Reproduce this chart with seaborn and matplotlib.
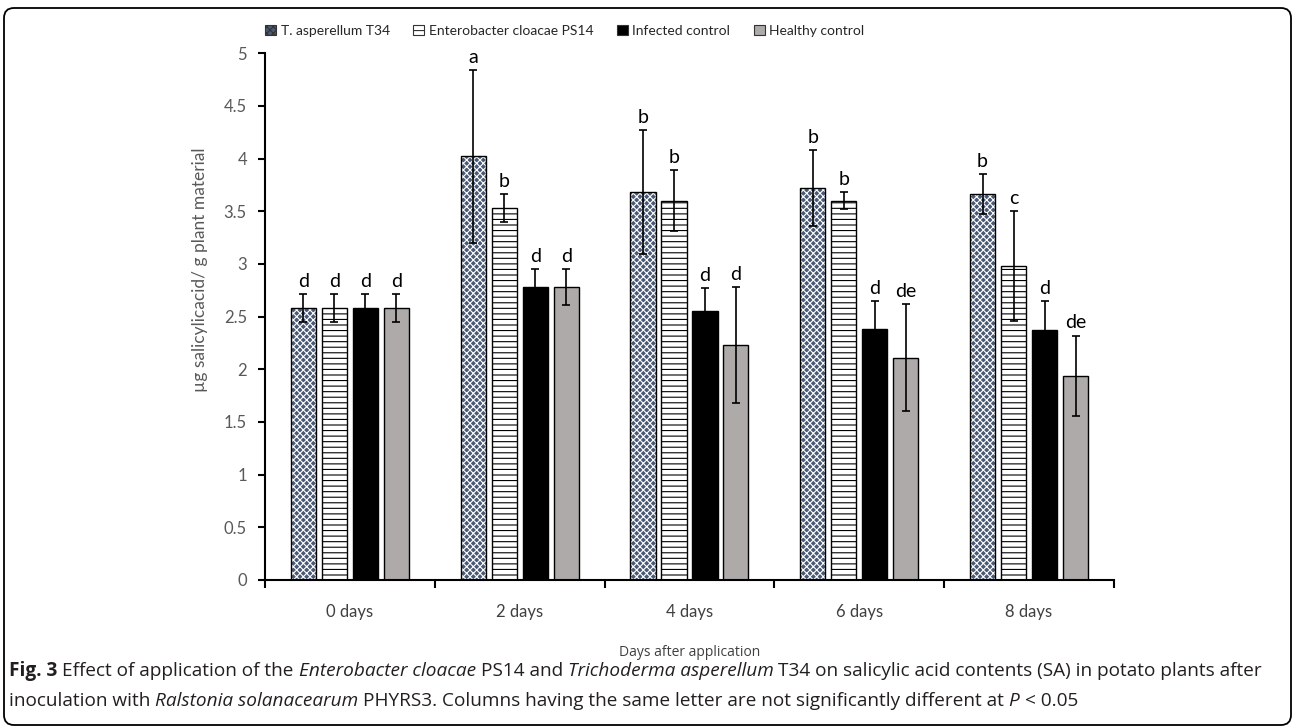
import matplotlib
matplotlib.use("Agg")
import matplotlib.pyplot as plt
from matplotlib import font_manager
from matplotlib.patches import Rectangle, Patch, FancyBboxPatch
from matplotlib.transforms import IdentityTransform
from matplotlib.ticker import FixedLocator
import seaborn as sns
import pandas as pd

# --- data ---
days = ["0 days", "2 days", "4 days", "6 days", "8 days"]
treatments = ["T. asperellum T34", "Enterobacter cloacae PS14",
              "Infected control", "Healthy control"]

t34_mean = [2.58, 4.02, 3.68, 3.72, 3.66]
t34_err = [0.13, 0.82, 0.59, 0.36, 0.19]
ps14_mean = [2.58, 3.53, 3.60, 3.60, 2.98]
ps14_err = [0.13, 0.13, 0.29, 0.08, 0.52]
infected_mean = [2.58, 2.78, 2.55, 2.38, 2.37]
infected_err = [0.13, 0.17, 0.22, 0.27, 0.28]
healthy_mean = [2.58, 2.78, 2.23, 2.11, 1.94]
healthy_err = [0.13, 0.17, 0.55, 0.51, 0.38]

t34_letters = ["d", "a", "b", "b", "b"]
ps14_letters = ["d", "b", "b", "b", "c"]
infected_letters = ["d", "d", "d", "d", "d"]
healthy_letters = ["d", "d", "d", "de", "de"]

means = [t34_mean, ps14_mean, infected_mean, healthy_mean]
errs = [t34_err, ps14_err, infected_err, healthy_err]
letters = [t34_letters, ps14_letters, infected_letters, healthy_letters]

rows = []
for name, vals in zip(treatments, means):
    for d, v in zip(days, vals):
        rows.append({"day": d, "treatment": name, "value": v})
df = pd.DataFrame(rows)

sns.set_theme(style="white")
plt.rcParams["font.family"] = ["Lato", "DejaVu Sans"]
plt.rcParams["hatch.linewidth"] = 0.8

names = {f.name for f in font_manager.fontManager.ttflist}
cap_font = "Liberation Sans Narrow" if "Liberation Sans Narrow" in names else "Open Sans"

fig = plt.figure(figsize=(12.95, 7.28), dpi=100)
ax = fig.add_axes([0.2046, 0.2033, 0.6556, 0.7237])

sns.barplot(data=df, x="day", y="value", hue="treatment", order=days,
            hue_order=treatments, width=0.73, gap=0.19, errorbar=None,
            legend=False, ax=ax)

# bar styles (Excel-like patterns)
styles = [
    dict(fc="#4a5a74", hatch="xxxxx", hc="white"),
    dict(fc="white", hatch="---", hc="black"),
    dict(fc="black", hatch=None, hc="black"),
    dict(fc="#aeaaaa", hatch=None, hc="black"),
]

for cont, st, mu, er, lab in zip(ax.containers, styles, means, errs, letters):
    xs = []
    for bar in cont:
        bar.set_facecolor(st["fc"])
        if st["hatch"]:
            bar.set_hatch(st["hatch"])
        bar.set_edgecolor(st["hc"])
        bar.set_linewidth(0)
        ax.add_patch(Rectangle((bar.get_x(), bar.get_y()), bar.get_width(),
                               bar.get_height(), fill=False, ec="black",
                               lw=1.0, zorder=bar.get_zorder() + 0.1))
        xs.append(bar.get_x() + bar.get_width() / 2)
    ax.errorbar(xs, mu, yerr=er, fmt="none", ecolor="black", elinewidth=1.2,
                capsize=3.1, capthick=1.2, zorder=5)
    for x, m, e, t in zip(xs, mu, er, lab):
        ax.annotate(t, (x, m + e), xytext=(0, 3), textcoords="offset points",
                    ha="center", va="bottom", fontsize=14, color="black")

ax.set_ylim(0, 5)
ax.set_xlim(-0.5, 4.5)
ax.set_yticks([0, 0.5, 1, 1.5, 2, 2.5, 3, 3.5, 4, 4.5, 5])
ax.set_yticklabels(["0", "0.5", "1", "1.5", "2", "2.5", "3", "3.5", "4", "4.5", "5"])
ax.xaxis.set_minor_locator(FixedLocator([-0.5, 0.5, 1.5, 2.5, 3.5, 4.5]))
ax.tick_params(axis="x", which="major", length=0, pad=17, labelsize=12,
               labelcolor="#404040")
ax.tick_params(axis="x", which="minor", length=6, width=1.5, direction="out",
               color="black", bottom=True)
ax.tick_params(axis="y", length=5, width=1.5, direction="out", color="black",
               left=True, labelsize=12, labelcolor="#595959", pad=8)
for s in ["top", "right"]:
    ax.spines[s].set_visible(False)
for s in ["left", "bottom"]:
    ax.spines[s].set_color("black")
    ax.spines[s].set_linewidth(1.5)

ax.set_xlabel("Days after application", fontsize=10, color="#404040",
              family=cap_font, va="center")
ax.xaxis.set_label_coords(0.5, -0.137)
ax.set_ylabel("µg salicylicacid/ g plant material", fontsize=12.5,
              color="#595959")
ax.yaxis.set_label_coords(-0.067, 0.588)

handles = [Patch(facecolor=st["fc"], hatch=st["hatch"], edgecolor="#333333",
                 lw=0.8) for st in styles]
fig.legend(handles, treatments, loc="center", bbox_to_anchor=(0.436, 0.958),
           ncol=4, frameon=False, handlelength=0.8, handleheight=0.8,
           handletextpad=0.3, columnspacing=1.7, fontsize=10)

# rounded frame around figure + caption
fig.add_artist(FancyBboxPatch((4, 3), 1287, 717,
                              boxstyle="round,pad=0,rounding_size=10",
                              transform=IdentityTransform(), fill=False,
                              ec="black", lw=1.3))

renderer = fig.canvas.get_renderer()


def rich_line(x, y, parts):
    for txt, weight, style in parts:
        t = fig.text(x, y, txt, fontsize=13.7, family=cap_font, weight=weight,
                     style=style, va="baseline", ha="left", color="#231f20")
        bb = t.get_window_extent(renderer)
        x += bb.width / fig.bbox.width


rich_line(0.007, 1 - 676 / 728, [
    ("Fig. 3 ", "bold", "normal"),
    ("Effect of application of the ", "normal", "normal"),
    ("Enterobacter cloacae ", "normal", "italic"),
    ("PS14 and ", "normal", "normal"),
    ("Trichoderma asperellum ", "normal", "italic"),
    ("T34 on salicylic acid contents (SA) in potato plants after", "normal", "normal"),
])
rich_line(0.007, 1 - 706 / 728, [
    ("inoculation with ", "normal", "normal"),
    ("Ralstonia solanacearum ", "normal", "italic"),
    ("PHYRS3. Columns having the same letter are not significantly different at ", "normal", "normal"),
    ("P ", "normal", "italic"),
    ("< 0.05", "normal", "normal"),
])

fig.savefig("out.png", dpi=100)
